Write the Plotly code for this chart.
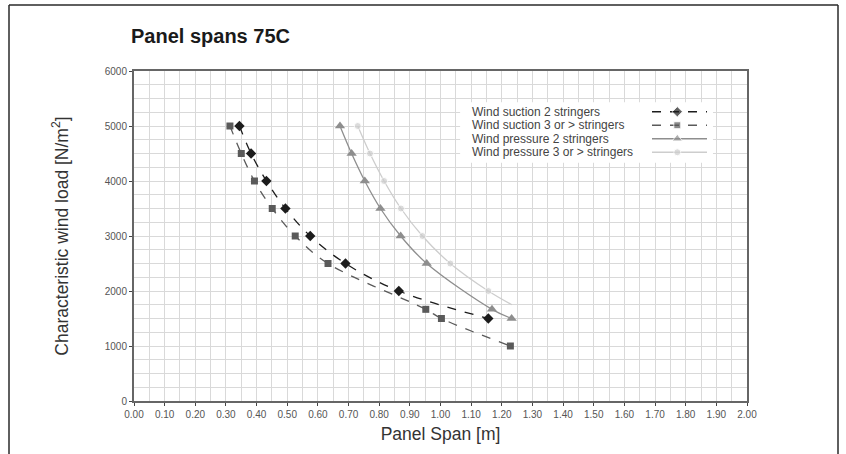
import plotly.graph_objects as go

W, H = 846, 454

# data
suction2_span = [0.344, 0.382, 0.432, 0.494, 0.575, 0.690, 0.864, 1.156]
suction2_load = [5000, 4500, 4000, 3500, 3000, 2500, 2000, 1500]

suction3_span = [0.313, 0.350, 0.393, 0.451, 0.526, 0.633, 0.952, 1.003, 1.228]
suction3_load = [5000, 4500, 4000, 3500, 3000, 2500, 1667, 1500, 1000]

pressure2_span = [0.672, 0.710, 0.753, 0.804, 0.870, 0.955, 1.168, 1.232]
pressure2_load = [5000, 4500, 4000, 3500, 3000, 2500, 1667, 1500]

pressure3_span = [0.730, 0.770, 0.816, 0.871, 0.941, 1.032, 1.156, 1.233]
pressure3_load = [5000, 4500, 4000, 3500, 3000, 2500, 2000, 1750]
pressure3_marked = [True, True, True, True, True, True, True, False]

series_names = [
    "Wind suction 2 stringers",
    "Wind suction 3 or > stringers",
    "Wind pressure 2 stringers",
    "Wind pressure 3 or > stringers",
]

NARROW = "Liberation Sans Narrow, Arial Narrow, Liberation Sans, sans-serif"
SANS = "Liberation Sans, Arial, sans-serif"


def px_x(p):
    return p / W


def px_y(p):
    return 1 - p / H


styles = [
    dict(color="#1c1c1c", dash="dash", symbol="diamond", size=8),
    dict(color="#5a5a5a", dash="dash", symbol="square", size=7),
    dict(color="#8e8e8e", dash="solid", symbol="triangle-up", size=9),
    dict(color="#cdcdcd", dash="solid", symbol="circle", size=7),
]

curves = [
    (suction2_span, suction2_load, None),
    (suction3_span, suction3_load, None),
    (pressure2_span, pressure2_load, None),
    (pressure3_span, pressure3_load, pressure3_marked),
]

fig = go.Figure()

for (xs, ys, marked), st, name in zip(curves, styles, series_names):
    sizes = st["size"] if marked is None else [st["size"] if m else 0 for m in marked]
    fig.add_trace(go.Scatter(
        x=xs, y=ys, name=name, mode="lines+markers",
        line=dict(color=st["color"], width=1.3, dash=st["dash"],
                  shape="spline", smoothing=1),
        marker=dict(symbol=st["symbol"], size=sizes, color=st["color"]),
        showlegend=False,
    ))

# hand-made legend (symbols sit to the right of the text)
rows = [1, 2, 3, 4]
for row, st, name in zip(rows, styles, series_names):
    fig.add_trace(go.Scatter(
        x=[0, 0.46, 1], y=[row, row, row], xaxis="x2", yaxis="y2",
        mode="lines+markers",
        line=dict(color=st["color"], width=1.5, dash=st["dash"]),
        marker=dict(symbol=st["symbol"], size=[0, st["size"], 0], color=st["color"]),
        showlegend=False, hoverinfo="skip",
    ))
    fig.add_annotation(
        xref="paper", yref="y2", x=px_x(470), y=row, text=name,
        xanchor="left", yanchor="middle", showarrow=False,
        font=dict(family=SANS, size=12, color="#444"),
    )

fig.add_shape(type="rect", xref="x", yref="y", x0=1.064, x1=1.889, y0=4330, y1=5430,
              fillcolor="white", line=dict(width=0), layer="between")

# outer frame
frame = dict(color="#2a2a2a", width=1.5)
fig.add_shape(type="line", xref="paper", yref="paper", x0=px_x(9), x1=px_x(9), y0=0, y1=px_y(5), line=frame)
fig.add_shape(type="line", xref="paper", yref="paper", x0=px_x(9), x1=px_x(838), y0=px_y(5), y1=px_y(5), line=frame)
fig.add_shape(type="line", xref="paper", yref="paper", x0=px_x(838), x1=px_x(838), y0=0, y1=px_y(5), line=frame)

fig.add_annotation(
    xref="paper", yref="paper", x=px_x(129), y=px_y(36), text="<b>Panel spans 75C</b>",
    xanchor="left", yanchor="middle", showarrow=False,
    font=dict(family=NARROW, size=20, color="#1a1a1a"),
)

grid = "#d9d9d9"
fig.update_layout(
    width=W, height=H,
    margin=dict(l=0, r=0, t=0, b=0, autoexpand=False),
    paper_bgcolor="white", plot_bgcolor="white",
    xaxis=dict(
        domain=[px_x(134), px_x(747)], range=[0, 2], dtick=0.1, tick0=0,
        tickformat=".2f", showgrid=True, gridcolor=grid, gridwidth=1,
        minor=dict(dtick=0.05, showgrid=True, gridcolor=grid, gridwidth=1),
        showline=True, linecolor="#666", linewidth=2, mirror=True,
        ticks="outside", ticklen=3, tickcolor="#444",
        tickfont=dict(family=NARROW, size=10, color="#555"),
        title=dict(text="Panel Span [m]", standoff=9,
                   font=dict(family=SANS, size=17.5, color="#333")),
        zeroline=False, fixedrange=True, automargin=False,
    ),
    yaxis=dict(
        domain=[px_y(401), px_y(71)], range=[0, 6000], dtick=1000, tick0=0,
        showgrid=True, gridcolor=grid, gridwidth=1,
        minor=dict(dtick=250, showgrid=True, gridcolor=grid, gridwidth=1),
        showline=True, linecolor="#666", linewidth=2, mirror=True,
        ticks="outside", ticklen=3, tickcolor="#444",
        tickfont=dict(family=NARROW, size=10, color="#555"),
        title=dict(text="Characteristic wind load [N/m<sup>2</sup>]", standoff=32,
                   font=dict(family=SANS, size=17.5, color="#333")),
        zeroline=False, fixedrange=True, automargin=False,
    ),
    xaxis2=dict(domain=[px_x(652), px_x(707)], range=[0, 1], visible=False,
                anchor="y2", fixedrange=True),
    yaxis2=dict(domain=[px_y(159), px_y(105)], range=[4.5, 0.5], visible=False,
                anchor="x2", fixedrange=True),
    showlegend=False,
)

# drop the browser's default 8px body margin so the figure fills the window
fig.write_html("out.html", config={"displayModeBar": False},
               post_script="document.body.style.margin = '0';")
